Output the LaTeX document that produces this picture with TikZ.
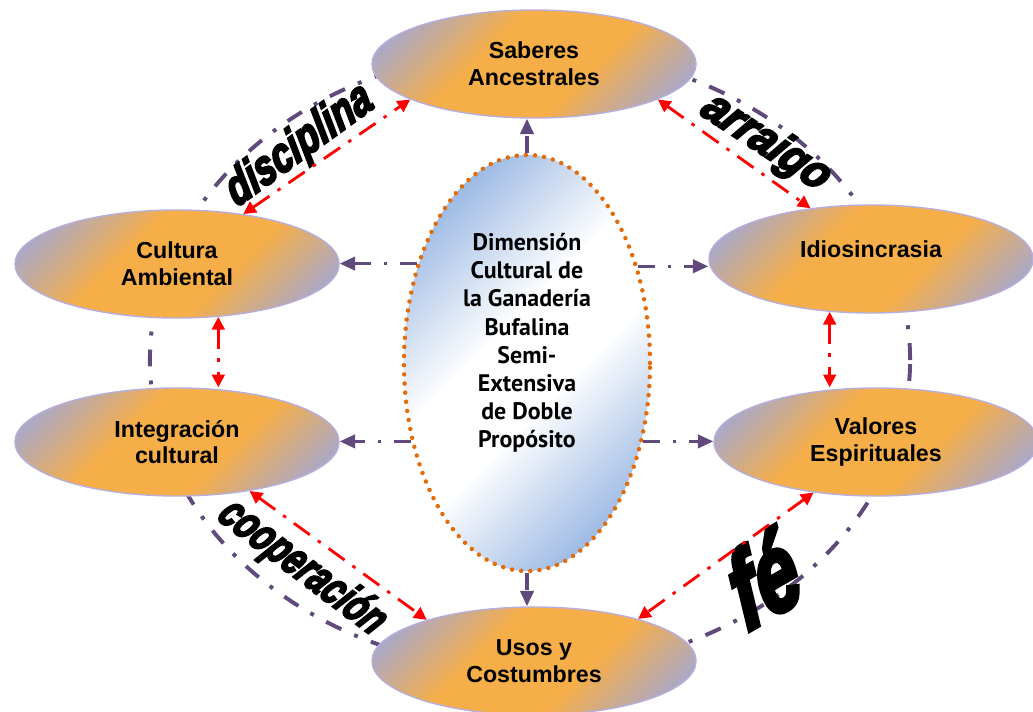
\documentclass[tikz,border=0pt]{standalone}
\usepackage{fontspec}
\setmainfont{Liberation Sans}
\newfontfamily\corefont{PT Sans}
\newfontfamily\wordfont[FakeBold=5]{Liberation Sans}
\usetikzlibrary{shapes.geometric,arrows.meta}
\definecolor{ringpurple}{HTML}{604A7B}
\definecolor{boxorange}{HTML}{F6AE48}
\definecolor{boxlav}{HTML}{A2A8D4}
\definecolor{boxline}{HTML}{B8AEDC}
\definecolor{coreblue}{HTML}{9DBAE4}
\definecolor{coredot}{HTML}{E36C0A}
\pgfdeclareverticalshading{ideashade}{100bp}{color(0bp)=(boxlav); color(20bp)=(boxlav); color(40bp)=(boxorange); color(60bp)=(boxorange); color(80bp)=(boxlav); color(100bp)=(boxlav)}
\pgfdeclareverticalshading{coreshade}{100bp}{color(0bp)=(coreblue); color(24bp)=(coreblue); color(44bp)=(white); color(56bp)=(white); color(76bp)=(coreblue); color(100bp)=(coreblue)}
\begin{document}
\begin{tikzpicture}[x=0.025cm,y=-0.025cm,
  idea/.style={ellipse,draw=boxline,line width=1pt,shading=ideashade,shading angle=45,
    minimum width=8.1cm,minimum height=2.7cm,inner sep=0pt,align=center,font=\bfseries\fontsize{16.5}{19}\selectfont},
  ring/.style={ringpurple,line width=2.8pt,dash pattern=on 12pt off 10pt on 2.8pt off 10pt},
  link/.style={red,line width=2pt,dash pattern=on 14pt off 7pt on 2.5pt off 7pt,{Triangle[length=9pt,width=9pt]}-{Triangle[length=9pt,width=9pt]}},
  spoke/.style={ringpurple,line width=2.3pt,dash pattern=on 12pt off 9pt on 2.5pt off 9pt,-{Triangle[length=11pt,width=9.5pt]}},
  word/.style={font=\wordfont\bfseries\itshape\fontsize{30}{30}\selectfont,inner sep=0pt}]
\useasboundingbox (0,0) rectangle (1033,711);
\draw[ring] (530,360) ellipse [x radius=9.5cm,y radius=7.75cm];

\node[word,rotate=36,xslant=0.12,xscale=0.88,yscale=1.15] (disc) at (300,146) {disciplina};
\node[word,rotate=-33,xslant=0.12,yscale=1.1] (arr) at (766,143) {arraigo};
\node[word,rotate=-37,xslant=0.12,xscale=0.78,yscale=1.1] (coop) at (302,568) {cooperación};
\node[word,rotate=30,xslant=0.15,yscale=1.35,font=\wordfont\bfseries\itshape\fontsize{56}{56}\selectfont] (fe) at (763,578) {fé};

\node[idea] (saberes) at (534,64) {Saberes\\Ancestrales};
\node[idea] (cultura) at (177,264) {Cultura\\Ambiental};
\node[idea] (integ) at (177,442) {Integración\\cultural};
\node[idea,text depth=14pt] (idio) at (871,259) {Idiosincrasia};
\node[idea] (valores) at (876,442) {Valores\\Espirituales};
\node[idea] (usos) at (534,661) {Usos y\\Costumbres};
\node[ellipse,draw=coredot,line width=3.2pt,line cap=round,dash pattern=on 0.01pt off 6.5pt,
  shading=coreshade,shading angle=45,
  minimum width=6.15cm,minimum height=10.4cm,inner sep=0pt,align=center,text depth=32pt,
  font=\corefont\bfseries\fontsize{17}{20}\selectfont] (core) at (527,363)
  {Dimensión\\Cultural de\\la Ganadería\\Bufalina\\Semi-\\Extensiva\\de Doble\\Propósito};

\draw[spoke] (core.north) -- (core.north |- saberes.south);
\draw[spoke] (core.south) -- (core.south |- usos.north);
\draw[spoke] (core.138) -- (core.138 -| cultura.east);
\draw[spoke] (core.214) -- (core.214 -| integ.east);
\draw[spoke] (core.41) -- (core.41 -| idio.west);
\draw[spoke] (core.326) -- (core.326 -| valores.west);

\draw[link] (cultura.37) -- (saberes.196);
\draw[link] (saberes.344) -- (idio.140);
\draw[link] (cultura.308) -- (cultura.308 |- integ.north);
\draw[link] (idio.232) -- (idio.232 |- valores.north);
\draw[link] (integ.326) -- (usos.159);
\draw[link] (valores.219) -- (usos.22);
\end{tikzpicture}
\end{document}
